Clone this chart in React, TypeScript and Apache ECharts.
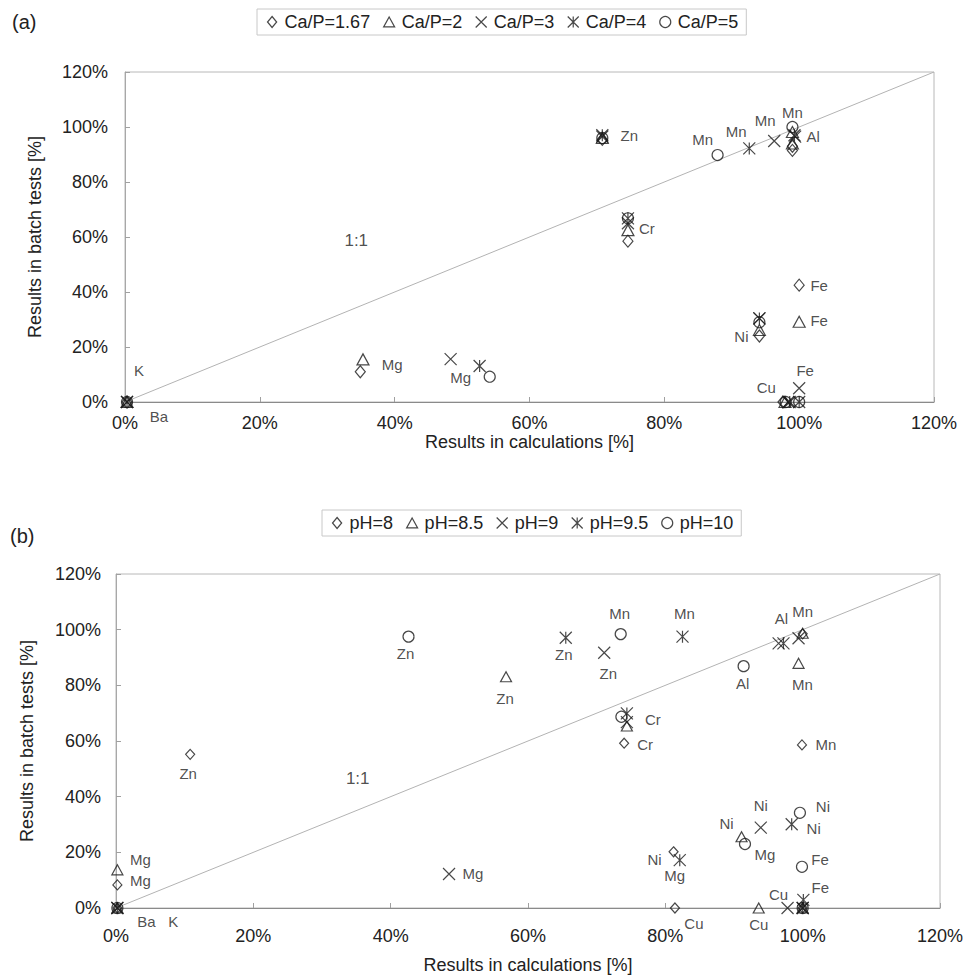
import React, { useEffect, useRef } from 'react';
import * as echarts from 'echarts';

// ---------- DATA ----------
// Each point: [result in calculations %, result in batch tests %, element label]
type Pt = [number, number, string];

// Panel (a): Ca/P ratios
const A_NAMES = ['Ca/P=1.67', 'Ca/P=2', 'Ca/P=3', 'Ca/P=4', 'Ca/P=5'];
const CA_167: Pt[] = [[0.3, 0, ''], [34.9, 11, 'Mg'], [70.8, 95.5, ''], [74.6, 58.5, ''], [94.1, 24, 'Ni'], [100, 42.5, 'Fe'], [97.6, 0, ''], [99, 91.5, ''], [99, 93, '']];
const CA_2: Pt[] = [[0.3, 0, ''], [35.3, 15.5, ''], [70.8, 96, ''], [74.6, 62.5, 'Cr'], [94.1, 26.2, ''], [100, 29.2, 'Fe'], [97.9, 0, ''], [99, 94, ''], [99, 98.2, '']];
const CA_3: Pt[] = [[0.3, 0, ''], [48.3, 15.6, 'Mg'], [70.8, 96.5, 'Zn'], [74.6, 65, ''], [94.1, 30.4, ''], [100, 5, 'Fe'], [98.4, 0, 'Cu'], [96.3, 94.9, 'Mn'], [99.4, 96.5, 'Al']];
const CA_4: Pt[] = [[0.3, 0, 'K'], [52.6, 13.1, ''], [70.8, 97, ''], [74.6, 66.8, ''], [94.1, 30.4, ''], [100, 0, ''], [98.6, 0, ''], [92.6, 92.2, 'Mn'], [99.3, 97, '']];
const CA_5: Pt[] = [[0.3, 0, 'Ba'], [54.1, 9.2, ''], [70.8, 96, ''], [74.6, 66.8, ''], [94.1, 29, ''], [100, 0, ''], [98, 0, ''], [87.9, 89.8, 'Mn'], [99, 100, 'Mn']];

// Panel (b): pH values
const B_NAMES = ['pH=8', 'pH=8.5', 'pH=9', 'pH=9.5', 'pH=10'];
const PH_8: Pt[] = [[0.2, 0, ''], [0.2, 8.3, 'Mg'], [10.8, 55.2, 'Zn'], [74, 59.2, 'Cr'], [99.9, 58.6, 'Mn'], [81.2, 20.2, 'Ni'], [81.4, 0, 'Cu'], [100, 98.5, ''], [100, 0, '']];
const PH_85: Pt[] = [[0.2, 0, ''], [0.2, 13.7, 'Mg'], [56.8, 83.1, 'Zn'], [74.4, 65.4, ''], [99.4, 87.9, 'Mn'], [91.1, 25.6, 'Ni'], [93.6, 0, 'Cu'], [100, 98.7, 'Mn'], [100, 0, '']];
const PH_9: Pt[] = [[0.2, 0, ''], [48.5, 12.2, 'Mg'], [71.1, 91.7, 'Zn'], [74.4, 66.8, ''], [96.5, 95.1, ''], [99.4, 96.9, ''], [93.9, 28.9, 'Ni'], [97.8, 0, 'Cu'], [100, 0, '']];
const PH_95: Pt[] = [[0.2, 0, 'Ba'], [65.5, 97.1, 'Zn'], [82.5, 97.5, 'Mn'], [74.4, 69.9, 'Cr'], [97.2, 95.1, 'Al'], [98.4, 30.1, 'Ni'], [82.1, 17.2, 'Mg'], [100.1, 2.9, 'Fe'], [100, 0, '']];
const PH_10: Pt[] = [[0.2, 0, 'K'], [42.6, 97.5, 'Zn'], [73.5, 98.4, 'Mn'], [91.4, 86.9, 'Al'], [73.6, 68.7, ''], [99.6, 34.2, 'Ni'], [91.6, 23, 'Mg'], [99.9, 14.8, 'Fe'], [100, 0, '']];

// 1:1 reference line and its annotation
const ONE_TO_ONE: [number, number][] = [[0, 0], [120, 120]];
const A_ONE_LABEL: [number, number] = [34.3, 58.9];
const B_ONE_LABEL: [number, number] = [35.2, 46.7];

// Axis
const AXIS_MIN = 0;
const AXIS_MAX = 120;
const AXIS_STEP = 20;
const X_TITLE = 'Results in calculations [%]';
const Y_TITLE = 'Results in batch tests [%]';

// ---------- STYLE / LAYOUT ----------
const FONT = "'Liberation Sans', Arial, Helvetica, sans-serif";
const INK = '#1a1a1a';
const TEXT = '#222';

const SYM_DIAMOND = 'path://M5,0L10,6L5,12L0,6Z';
const SYM_TRI = 'path://M5,0L10,9L0,9Z';
const SYM_X = 'path://M0,0L10,10M10,0L0,10';
const SYM_AST = 'path://M0,0L10,10M10,0L0,10M5,0L5,10';
const SYM_CIRCLE = 'circle';

// label offsets (px) of element names relative to marker centre, by series & point index
const LABEL_OFFSETS: Record<string, Record<number, [number, number]>> = {
  'Ca/P=1.67': { 1: [32, -7], 4: [-18, 0], 5: [20, 0] },
  'Ca/P=2': { 3: [19, -2], 5: [20, -1] },
  'Ca/P=3': { 1: [10, 18], 2: [27, -1], 5: [6, -18], 6: [-22, -15], 7: [-9, -21], 8: [18, 0] },
  'Ca/P=4': { 0: [12, -32], 7: [-13, -17] },
  'Ca/P=5': { 0: [32, 14], 7: [-15, -16], 8: [0, -15] },
  'pH=8': { 1: [23, -4], 2: [-2, 19], 3: [21, 1], 4: [24, 0], 5: [-19, 8], 6: [19, 15] },
  'pH=8.5': { 1: [23, -10], 2: [-1, 22], 4: [4, 21], 5: [-15, -13], 6: [0, 16], 7: [0, -22] },
  'pH=9': { 1: [24, -1], 2: [4, 21], 6: [0, -22], 7: [-9, -14] },
  'pH=9.5': { 0: [29, 13], 1: [-2, 17], 2: [2, -23], 3: [26, 6], 4: [-2, -25], 5: [22, 4], 6: [-5, 15], 7: [17, -12] },
  'pH=10': { 0: [56, 13], 1: [-3, 17], 2: [-1, -21], 3: [-1, 17], 5: [23, -6], 6: [20, 11], 7: [18, -7] },
};

function scatter(name: string, pts: Pt[], symbol: string, size: number | number[], axis: number) {
  const offs = LABEL_OFFSETS[name] || {};
  return {
    name,
    type: 'scatter',
    xAxisIndex: axis,
    yAxisIndex: axis,
    symbol,
    symbolSize: size,
    silent: true,
    itemStyle: { color: 'none', borderColor: INK, borderWidth: 1.2 },
    label: {
      show: true,
      position: 'inside',
      formatter: '{b}',
      fontSize: 15,
      fontFamily: FONT,
      color: TEXT,
    },
    emphasis: { disabled: true },
    data: pts.map((p, i) => ({
      name: p[2],
      value: [p[0], p[1]],
      label: p[2] ? { show: true, offset: offs[i] || [0, 0] } : { show: false },
    })),
  };
}

function oneLine(axis: number) {
  return {
    type: 'line',
    xAxisIndex: axis,
    yAxisIndex: axis,
    data: ONE_TO_ONE,
    symbol: 'none',
    silent: true,
    z: 1,
    lineStyle: { color: '#b3b3b3', width: 1 },
  };
}

function oneLabel(axis: number, pos: [number, number]) {
  return {
    type: 'scatter',
    xAxisIndex: axis,
    yAxisIndex: axis,
    symbolSize: 1,
    silent: true,
    itemStyle: { color: 'rgba(0,0,0,0)' },
    label: { show: true, position: 'inside', formatter: '1:1', fontSize: 17, fontFamily: FONT, color: TEXT },
    data: [pos],
  };
}

function xAxis(grid: number, labelMargin: number, nameGap: number) {
  return {
    type: 'value',
    gridIndex: grid,
    min: AXIS_MIN,
    max: AXIS_MAX,
    interval: AXIS_STEP,
    name: X_TITLE,
    nameLocation: 'middle',
    nameGap,
    nameTextStyle: { fontSize: 18, fontFamily: FONT, color: TEXT },
    axisLine: { show: true, lineStyle: { color: '#8a8a8a', width: 1 } },
    axisTick: { show: true, inside: true, length: 5, lineStyle: { color: '#a0a0a0' } },
    splitLine: { show: false },
    axisLabel: { formatter: '{value}%', fontSize: 18, fontFamily: FONT, color: TEXT, margin: labelMargin },
  };
}

function yAxis(grid: number, labelMargin: number, nameGap: number) {
  return {
    type: 'value',
    gridIndex: grid,
    min: AXIS_MIN,
    max: AXIS_MAX,
    interval: AXIS_STEP,
    name: Y_TITLE,
    nameLocation: 'middle',
    nameGap,
    nameTextStyle: { fontSize: 18, fontFamily: FONT, color: TEXT },
    axisLine: { show: true, lineStyle: { color: '#a8a8a8', width: 1 } },
    axisTick: { show: true, inside: true, length: 5, lineStyle: { color: '#a0a0a0' } },
    splitLine: { show: false },
    axisLabel: { formatter: '{value}%', fontSize: 18, fontFamily: FONT, color: TEXT, margin: labelMargin },
  };
}

function legend(names: string[], left: number, top: number) {
  return {
    data: names,
    left,
    top,
    orient: 'horizontal',
    itemWidth: 11,
    itemHeight: 11,
    itemGap: 11,
    padding: [4, 8],
    borderColor: '#c8c8c8',
    borderWidth: 1,
    selectedMode: false,
    itemStyle: { color: 'none', borderColor: INK, borderWidth: 1.2 },
    textStyle: { fontSize: 18, fontFamily: FONT, color: TEXT, padding: [0, 0, 0, 2] },
  };
}

export default function App() {
  const ref = useRef<HTMLDivElement>(null);
  useEffect(() => {
    if (!ref.current) return;
    const chart = echarts.init(ref.current, undefined, { renderer: 'svg' });
    const option: any = {
      animation: false,
      backgroundColor: '#fff',
      textStyle: { fontFamily: FONT },
      grid: [
        { left: 125, top: 72, width: 809, height: 330, show: true, borderColor: '#b8b8b8', borderWidth: 1, backgroundColor: 'transparent' },
        { left: 116, top: 574, width: 824, height: 334, show: true, borderColor: '#b8b8b8', borderWidth: 1, backgroundColor: 'transparent' },
      ],
      xAxis: [xAxis(0, 12, 28), xAxis(1, 19, 48)],
      yAxis: [yAxis(0, 17, 81), yAxis(1, 15, 80)],
      legend: [legend(A_NAMES, 257, 9), legend(B_NAMES, 322, 510)],
      graphic: [
        { type: 'text', left: 12, top: 12, style: { text: '(a)', fontSize: 20, fontFamily: FONT, fill: TEXT } },
        { type: 'text', left: 10, top: 526, style: { text: '(b)', fontSize: 20, fontFamily: FONT, fill: TEXT } },
      ],
      series: [
        oneLine(0),
        oneLabel(0, A_ONE_LABEL),
        scatter(A_NAMES[0], CA_167, SYM_DIAMOND, [10, 12], 0),
        scatter(A_NAMES[1], CA_2, SYM_TRI, [12, 11], 0),
        scatter(A_NAMES[2], CA_3, SYM_X, 12, 0),
        scatter(A_NAMES[3], CA_4, SYM_AST, 12, 0),
        scatter(A_NAMES[4], CA_5, SYM_CIRCLE, 11, 0),
        oneLine(1),
        oneLabel(1, B_ONE_LABEL),
        scatter(B_NAMES[0], PH_8, SYM_DIAMOND, [9, 10], 1),
        scatter(B_NAMES[1], PH_85, SYM_TRI, [11, 10], 1),
        scatter(B_NAMES[2], PH_9, SYM_X, 12, 1),
        scatter(B_NAMES[3], PH_95, SYM_AST, 12, 1),
        scatter(B_NAMES[4], PH_10, SYM_CIRCLE, 11, 1),
      ],
    };
    chart.setOption(option);
    return () => chart.dispose();
  }, []);
  return (
    <div
      ref={ref}
      style={{ position: 'absolute', left: 0, top: 0, width: 968, height: 976, background: '#fff' }}
    />
  );
}
